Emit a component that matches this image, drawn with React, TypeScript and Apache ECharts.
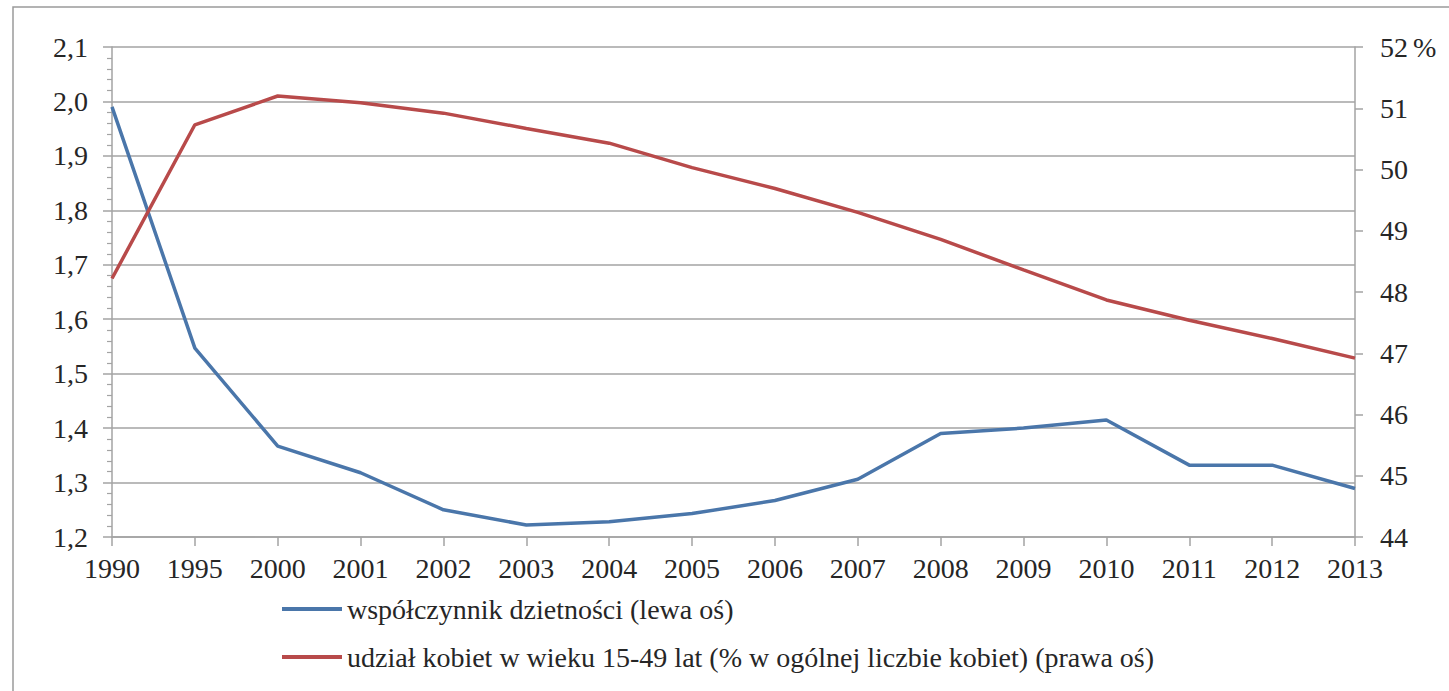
import React, { useEffect, useRef } from "react";
import * as echarts from "echarts";

const years = ["1990", "1995", "2000", "2001", "2002", "2003", "2004", "2005", "2006", "2007", "2008", "2009", "2010", "2011", "2012", "2013"];
const fertility = [1.99, 1.547, 1.367, 1.318, 1.25, 1.222, 1.228, 1.243, 1.267, 1.306, 1.39, 1.4, 1.415, 1.332, 1.332, 1.289];
const womenShare = [48.22, 50.73, 51.2, 51.09, 50.92, 50.67, 50.43, 50.03, 49.69, 49.3, 48.86, 48.36, 47.87, 47.54, 47.24, 46.92];
const seriesNames = [
  "współczynnik dzietności (lewa oś)",
  "udział kobiet w wieku 15-49 lat (% w ogólnej liczbie kobiet) (prawa oś)",
];
const leftTicks = { min: 1.2, max: 2.1, step: 0.1 };
const rightTicks = { min: 44, max: 52, step: 1 };

const FONT = "Times New Roman, Liberation Serif, DejaVu Serif, serif";
const TXT = "#262626";
const GRID = "#a3a3a3";

export default function App() {
  const ref = useRef<HTMLDivElement>(null);
  useEffect(() => {
    if (!ref.current) return;
    const chart = echarts.init(ref.current, null, { renderer: "svg" });
    chart.setOption({
      animation: false,
      backgroundColor: "#ffffff",
      textStyle: { fontFamily: FONT },
      grid: { left: 112, right: 94, top: 47, bottom: 154 },
      legend: {
        orient: "vertical",
        left: 277,
        top: 590,
        icon: "rect",
        itemWidth: 60,
        itemHeight: 4,
        itemGap: 20,
        selectedMode: false,
        textStyle: { fontFamily: FONT, fontSize: 28, color: TXT, lineHeight: 28 },
        data: seriesNames,
      },
      xAxis: {
        type: "category",
        data: years,
        boundaryGap: false,
        axisLine: { show: true, lineStyle: { color: GRID, width: 1.5 } },
        axisTick: { show: true, alignWithLabel: true, length: 9, lineStyle: { color: GRID, width: 1.5 } },
        axisLabel: { fontFamily: FONT, fontSize: 28, color: TXT, margin: 17, interval: 0 },
        splitLine: { show: false },
      },
      yAxis: [
        {
          type: "value",
          min: leftTicks.min,
          max: leftTicks.max,
          interval: leftTicks.step,
          position: "left",
          axisLine: { show: true, lineStyle: { color: GRID, width: 1.5 } },
          axisTick: { show: true, length: 9, lineStyle: { color: GRID, width: 1.5 } },
          minorTick: { show: true, splitNumber: 5, length: 5, lineStyle: { color: GRID, width: 1.2 } },
          axisLabel: {
            fontFamily: FONT,
            fontSize: 28,
            color: TXT,
            margin: 24,
            formatter: (v: number) => v.toFixed(1).replace(".", ","),
          },
          splitLine: { show: true, lineStyle: { color: GRID, width: 1.5 } },
        },
        {
          type: "value",
          min: rightTicks.min,
          max: rightTicks.max,
          interval: rightTicks.step,
          position: "right",
          axisLine: { show: true, lineStyle: { color: GRID, width: 1.5 } },
          axisTick: { show: true, length: 8, lineStyle: { color: GRID, width: 1.5 } },
          axisLabel: { fontFamily: FONT, fontSize: 28, color: TXT, margin: 25 },
          splitLine: { show: false },
        },
      ],
      graphic: [
        {
          type: "rect",
          shape: { x: 13, y: 7, width: 1500, height: 800 },
          style: { fill: "none", stroke: "#9a9a9a", lineWidth: 1.5 },
          silent: true,
        },
        {
          type: "text",
          x: 1413,
          y: 47,
          style: { text: "%", fontFamily: FONT, fontSize: 28, fill: TXT, verticalAlign: "middle" },
          silent: true,
        },
      ],
      series: [
        {
          name: seriesNames[0],
          type: "line",
          yAxisIndex: 0,
          data: fertility,
          showSymbol: false,
          symbol: "none",
          lineStyle: { color: "#4a76aa", width: 3.5 },
          itemStyle: { color: "#4a76aa" },
        },
        {
          name: seriesNames[1],
          type: "line",
          yAxisIndex: 1,
          data: womenShare,
          showSymbol: false,
          symbol: "none",
          lineStyle: { color: "#b84a4a", width: 3.5 },
          itemStyle: { color: "#b84a4a" },
        },
      ],
    });
    return () => chart.dispose();
  }, []);
  return (
    <div
      ref={ref}
      style={{ position: "fixed", left: 0, top: 0, width: 1449, height: 691, background: "#fff" }}
    />
  );
}
